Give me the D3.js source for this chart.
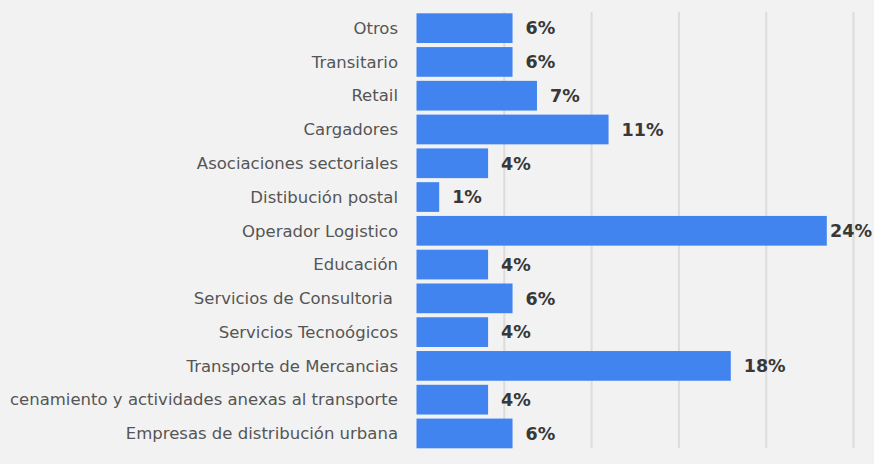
<!DOCTYPE html>
<html>
<head>
<meta charset="utf-8">
<script src="https://cdn.jsdelivr.net/npm/d3@7"></script>
<style>
  body { margin: 0; background: #f2f2f2; }
  svg { display: block; }
</style>
</head>
<body>
<div id="chart"></div>
<script>
// data (bar length in %, labels shown rounded)
var categories = [
    "Otros",
    "Transitario",
    "Retail",
    "Cargadores",
    "Asociaciones sectoriales",
    "Distibución postal",
    "Operador Logistico",
    "Educación",
    "Servicios de Consultoria ",
    "Servicios Tecnoógicos",
    "Transporte de Mercancias",
    "cenamiento y actividades anexas al transporte",
    "Empresas de distribución urbana"
];
var values = [5.5, 5.5, 6.9, 11.0, 4.1, 1.3, 23.5, 4.1, 5.5, 4.1, 18.0, 4.1, 5.5];
var gridTicks = [5, 10, 15, 20, 25];

var width = 874, height = 464;

var svg = d3.select("#chart")
    .append("svg")
    .attr("width", width)
    .attr("height", height);

svg.append("rect")
    .attr("width", width)
    .attr("height", height)
    .attr("fill", "#f2f2f2");

var x = d3.scaleLinear()
    .domain([0, 25])
    .range([416.5, 853]);

var y = d3.scaleBand()
    .domain(categories)
    .range([13.3, 448.3])
    .paddingInner(0.12)
    .paddingOuter(0);

// vertical grid lines
var grid = svg.append("g")
    .attr("transform", "translate(0,12)")
    .call(d3.axisBottom(x)
        .tickValues(gridTicks)
        .tickSize(436)
        .tickFormat(""));
grid.select(".domain").remove();
grid.selectAll("line")
    .attr("stroke", "#dcdcdc")
    .attr("stroke-width", 2);

// bars
svg.append("g")
    .selectAll("rect")
    .data(values)
    .enter()
    .append("rect")
    .attr("x", x(0))
    .attr("y", (d, i) => y(categories[i]))
    .attr("width", d => x(d) - x(0))
    .attr("height", y.bandwidth())
    .attr("fill", "#4184f0");

// category labels
svg.append("g")
    .selectAll("text")
    .data(categories)
    .enter()
    .append("text")
    .attr("x", 398)
    .attr("y", d => y(d) + y.bandwidth() / 2)
    .attr("dy", "0.35em")
    .attr("text-anchor", "end")
    .attr("font-family", "DejaVu Sans, sans-serif")
    .attr("font-size", "16.5px")
    .attr("fill", "#555")
    .style("white-space", "pre")
    .text(d => d);

// value labels
svg.append("g")
    .selectAll("text")
    .data(values)
    .enter()
    .append("text")
    .attr("y", (d, i) => y(categories[i]) + y.bandwidth() / 2)
    .attr("dy", "0.36em")
    .attr("font-family", "DejaVu Sans, sans-serif")
    .attr("font-weight", "bold")
    .attr("font-size", "17.5px")
    .attr("fill", "#383838")
    .text(d => Math.round(d) + "%")
    .attr("x", function(d) {
        var w = this.getComputedTextLength();
        return Math.min(x(d) + 13, width - w - 2);
    });
</script>
</body>
</html>
